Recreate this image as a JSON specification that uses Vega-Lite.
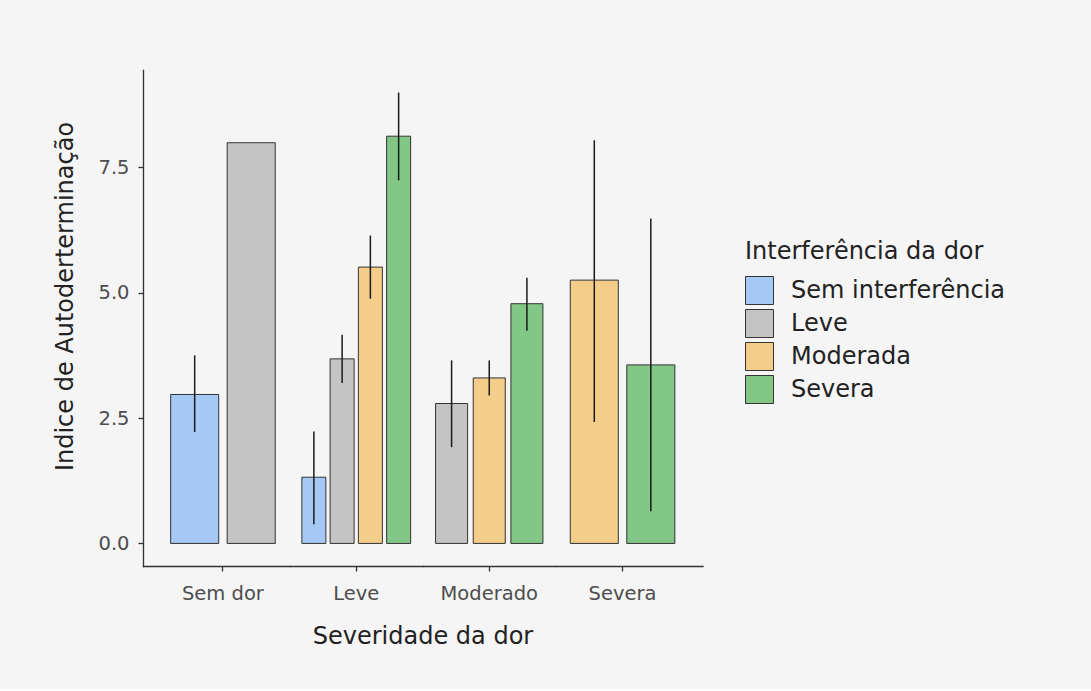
{
  "$schema": "https://vega.github.io/schema/vega-lite/v6.json",
  "autosize": {"type": "pad"},
  "padding": {"left": 53, "top": 70, "right": 90, "bottom": 40},
  "background": "#f5f5f5",
  "bounds": "flush",
  "data": {"values": [
    {"sev": "Sem dor", "int": "Sem interferência", "mean": 2.97, "lo": 2.22, "hi": 3.75},
    {"sev": "Sem dor", "int": "Leve", "mean": 7.99, "lo": null, "hi": null},
    {"sev": "Leve", "int": "Sem interferência", "mean": 1.32, "lo": 0.38, "hi": 2.23},
    {"sev": "Leve", "int": "Leve", "mean": 3.68, "lo": 3.20, "hi": 4.16},
    {"sev": "Leve", "int": "Moderada", "mean": 5.51, "lo": 4.88, "hi": 6.14},
    {"sev": "Leve", "int": "Severa", "mean": 8.12, "lo": 7.24, "hi": 8.99},
    {"sev": "Moderado", "int": "Leve", "mean": 2.79, "lo": 1.92, "hi": 3.65},
    {"sev": "Moderado", "int": "Moderada", "mean": 3.30, "lo": 2.95, "hi": 3.65},
    {"sev": "Moderado", "int": "Severa", "mean": 4.78, "lo": 4.24, "hi": 5.30},
    {"sev": "Severa", "int": "Moderada", "mean": 5.25, "lo": 2.42, "hi": 8.04},
    {"sev": "Severa", "int": "Severa", "mean": 3.56, "lo": 0.64, "hi": 6.48}
  ]},
  "spacing": 0,
  "resolve": {"scale": {"x": "independent", "xOffset": "independent", "y": "shared", "color": "shared"}},
  "hconcat": [
    {
      "width": 146.5, "height": 496,
      "transform": [{"filter": "datum.sev === 'Sem dor'"}],
      "encoding": {
        "x": {"field": "sev", "type": "nominal", "scale": {"paddingInner": 0, "paddingOuter": 0.148, "align": 0.7}, "axis": {"title": null}},
        "xOffset": {"field": "int", "type": "nominal", "scale": {"domain": ["Sem interferência", "Leve"], "paddingInner": 0.15, "paddingOuter": 0.075}}
      },
      "layer": [
        {"mark": {"type": "bar", "stroke": "#333333", "strokeWidth": 1},
         "encoding": {
           "y": {"field": "mean", "type": "quantitative", "scale": {"domain": [-0.45, 9.44], "nice": false, "zero": false},
                 "axis": {"title": "Indice de Autoderterminação", "values": [0, 2.5, 5, 7.5], "format": ".1f", "labelPadding": 9, "titlePadding": 20, "titleY": 226}},
           "y2": {"datum": 0},
           "color": {"field": "int", "type": "nominal",
                     "scale": {"domain": ["Sem interferência", "Leve", "Moderada", "Severa"], "range": ["#a6c8f5", "#c4c4c4", "#f4cd8a", "#82c786"]},
                     "legend": {"title": "Interferência da dor", "orient": "none", "legendX": 602, "legendY": 170}}
         }},
        {"mark": {"type": "rule", "color": "#1a1a1a", "strokeWidth": 1.5},
         "encoding": {"y": {"field": "lo", "type": "quantitative"}, "y2": {"field": "hi"}}}
      ]
    },
    {
      "width": 132.5, "height": 496,
      "transform": [{"filter": "datum.sev === 'Leve'"}],
      "encoding": {
        "x": {"field": "sev", "type": "nominal", "scale": {"paddingInner": 0, "paddingOuter": 0.0863, "align": 0.5},
              "axis": {"title": "Severidade da dor", "titleX": 132.5, "titleAlign": "center", "titlePadding": 22}},
        "xOffset": {"field": "int", "type": "nominal", "scale": {"domain": ["Sem interferência", "Leve", "Moderada", "Severa"], "paddingInner": 0.15, "paddingOuter": 0.075}}
      },
      "layer": [
        {"mark": {"type": "bar", "stroke": "#333333", "strokeWidth": 1},
         "encoding": {
           "y": {"field": "mean", "type": "quantitative", "scale": {"domain": [-0.45, 9.44], "nice": false, "zero": false}, "axis": null},
           "y2": {"datum": 0},
           "color": {"field": "int", "type": "nominal"}
         }},
        {"mark": {"type": "rule", "color": "#1a1a1a", "strokeWidth": 1.5},
         "encoding": {"y": {"field": "lo", "type": "quantitative"}, "y2": {"field": "hi"}}}
      ]
    },
    {
      "width": 132.5, "height": 496,
      "transform": [{"filter": "datum.sev === 'Moderado'"}],
      "encoding": {
        "x": {"field": "sev", "type": "nominal", "scale": {"paddingInner": 0, "paddingOuter": 0.0863, "align": 0.5}, "axis": {"title": null}},
        "xOffset": {"field": "int", "type": "nominal", "scale": {"domain": ["Leve", "Moderada", "Severa"], "paddingInner": 0.15, "paddingOuter": 0.075}}
      },
      "layer": [
        {"mark": {"type": "bar", "stroke": "#333333", "strokeWidth": 1},
         "encoding": {
           "y": {"field": "mean", "type": "quantitative", "scale": {"domain": [-0.45, 9.44], "nice": false, "zero": false}, "axis": null},
           "y2": {"datum": 0},
           "color": {"field": "int", "type": "nominal"}
         }},
        {"mark": {"type": "rule", "color": "#1a1a1a", "strokeWidth": 1.5},
         "encoding": {"y": {"field": "lo", "type": "quantitative"}, "y2": {"field": "hi"}}}
      ]
    },
    {
      "width": 146.5, "height": 496,
      "transform": [{"filter": "datum.sev === 'Severa'"}],
      "encoding": {
        "x": {"field": "sev", "type": "nominal", "scale": {"paddingInner": 0, "paddingOuter": 0.148, "align": 0.3}, "axis": {"title": null}},
        "xOffset": {"field": "int", "type": "nominal", "scale": {"domain": ["Moderada", "Severa"], "paddingInner": 0.15, "paddingOuter": 0.075}}
      },
      "layer": [
        {"mark": {"type": "bar", "stroke": "#333333", "strokeWidth": 1},
         "encoding": {
           "y": {"field": "mean", "type": "quantitative", "scale": {"domain": [-0.45, 9.44], "nice": false, "zero": false}, "axis": null},
           "y2": {"datum": 0},
           "color": {"field": "int", "type": "nominal"}
         }},
        {"mark": {"type": "rule", "color": "#1a1a1a", "strokeWidth": 1.5},
         "encoding": {"y": {"field": "lo", "type": "quantitative"}, "y2": {"field": "hi"}}}
      ]
    }
  ],
  "config": {
    "font": "DejaVu Sans",
    "view": {"stroke": null},
    "axis": {
      "grid": false,
      "domainColor": "#333333", "domainWidth": 1.3, "domainCap": "square",
      "tickColor": "#333333", "tickWidth": 1.3, "tickSize": 5,
      "labelFont": "DejaVu Sans", "labelFontSize": 19.5, "labelColor": "#4d4d4d", "labelPadding": 13, "labelAngle": 0,
      "titleFont": "DejaVu Sans", "titleFontSize": 24, "titleFontWeight": "normal", "titleColor": "#222222", "titlePadding": 14
    },
    "legend": {
      "titleFont": "DejaVu Sans", "titleFontSize": 24, "titleFontWeight": "normal", "titleColor": "#222222", "titlePadding": 12, "titleLimit": 500,
      "labelFont": "DejaVu Sans", "labelFontSize": 24, "labelColor": "#222222", "labelOffset": 17,
      "symbolType": "square", "symbolSize": 784, "symbolStrokeColor": "#333333", "symbolStrokeWidth": 1, "symbolOpacity": 1,
      "rowPadding": 0, "labelLimit": 400
    }
  }
}
